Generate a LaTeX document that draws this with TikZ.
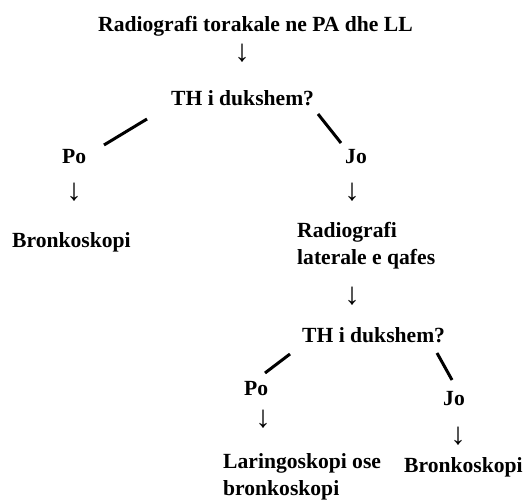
\documentclass[tikz,border=0pt]{standalone}
\usepackage{fontspec}
\setmainfont{Liberation Serif}
\usepackage{tikz}
\usetikzlibrary{positioning,calc}

\begin{document}
\begin{tikzpicture}[
        x=1pt, y=-1pt,
        font=\fontsize{21.6}{26.5}\selectfont\bfseries,
        txt/.style={anchor=base west, inner sep=0pt, align=left},
        dn/.style={inner sep=0pt, font=\fontsize{31}{31}\selectfont},
        stem/.style={line width=3pt},
    ]
        \useasboundingbox (0,0) rectangle (526,500);
        % First question.
        \node[txt] (cxr)  at (98,32)  {Radiografi torakale ne PA dhe LL};
        \node[dn]  (d1)   at (242,53) {↓};
        \node[txt] (th1)  at (171,106) {TH i dukshem?};
        \node[txt] (po1)  at (62,163)  {Po};
        \node[txt] (jo1)  at (345,163) {Jo};
        \coordinate (po1a) at (147,119);
        \coordinate (po1b) at (104,145);
        \coordinate (jo1a) at (318,114);
        \coordinate (jo1b) at (341,143);
        \draw[stem] (po1a) -- (po1b);
        \draw[stem] (jo1a) -- (jo1b);
        \node[dn]  (d2)   at (74,192)  {↓};
        \node[dn]  (d3)   at (352,192) {↓};
        \node[txt] (bro1) at (12,247)  {Bronkoskopi};
        \node[txt] (lat)  at (297,264) {Radiografi\\laterale e qafes};
        \node[dn]  (d4)   at (352,296) {↓};
        % Second question.
        \node[txt] (th2)  at (302,342) {TH i dukshem?};
        \node[txt] (po2)  at (244,395) {Po};
        \node[txt] (jo2)  at (443,405) {Jo};
        \coordinate (po2a) at (290,354);
        \coordinate (po2b) at (265,373);
        \coordinate (jo2a) at (437,353);
        \coordinate (jo2b) at (452,380);
        \draw[stem] (po2a) -- (po2b);
        \draw[stem] (jo2a) -- (jo2b);
        \node[dn]  (d5)   at (263,419) {↓};
        \node[dn]  (d6)   at (458,436) {↓};
        \node[txt] (lar)  at (223,495) {Laringoskopi ose\\bronkoskopi};
        \node[txt] (bro2) at (404,472) {Bronkoskopi};
\end{tikzpicture}
\end{document}
